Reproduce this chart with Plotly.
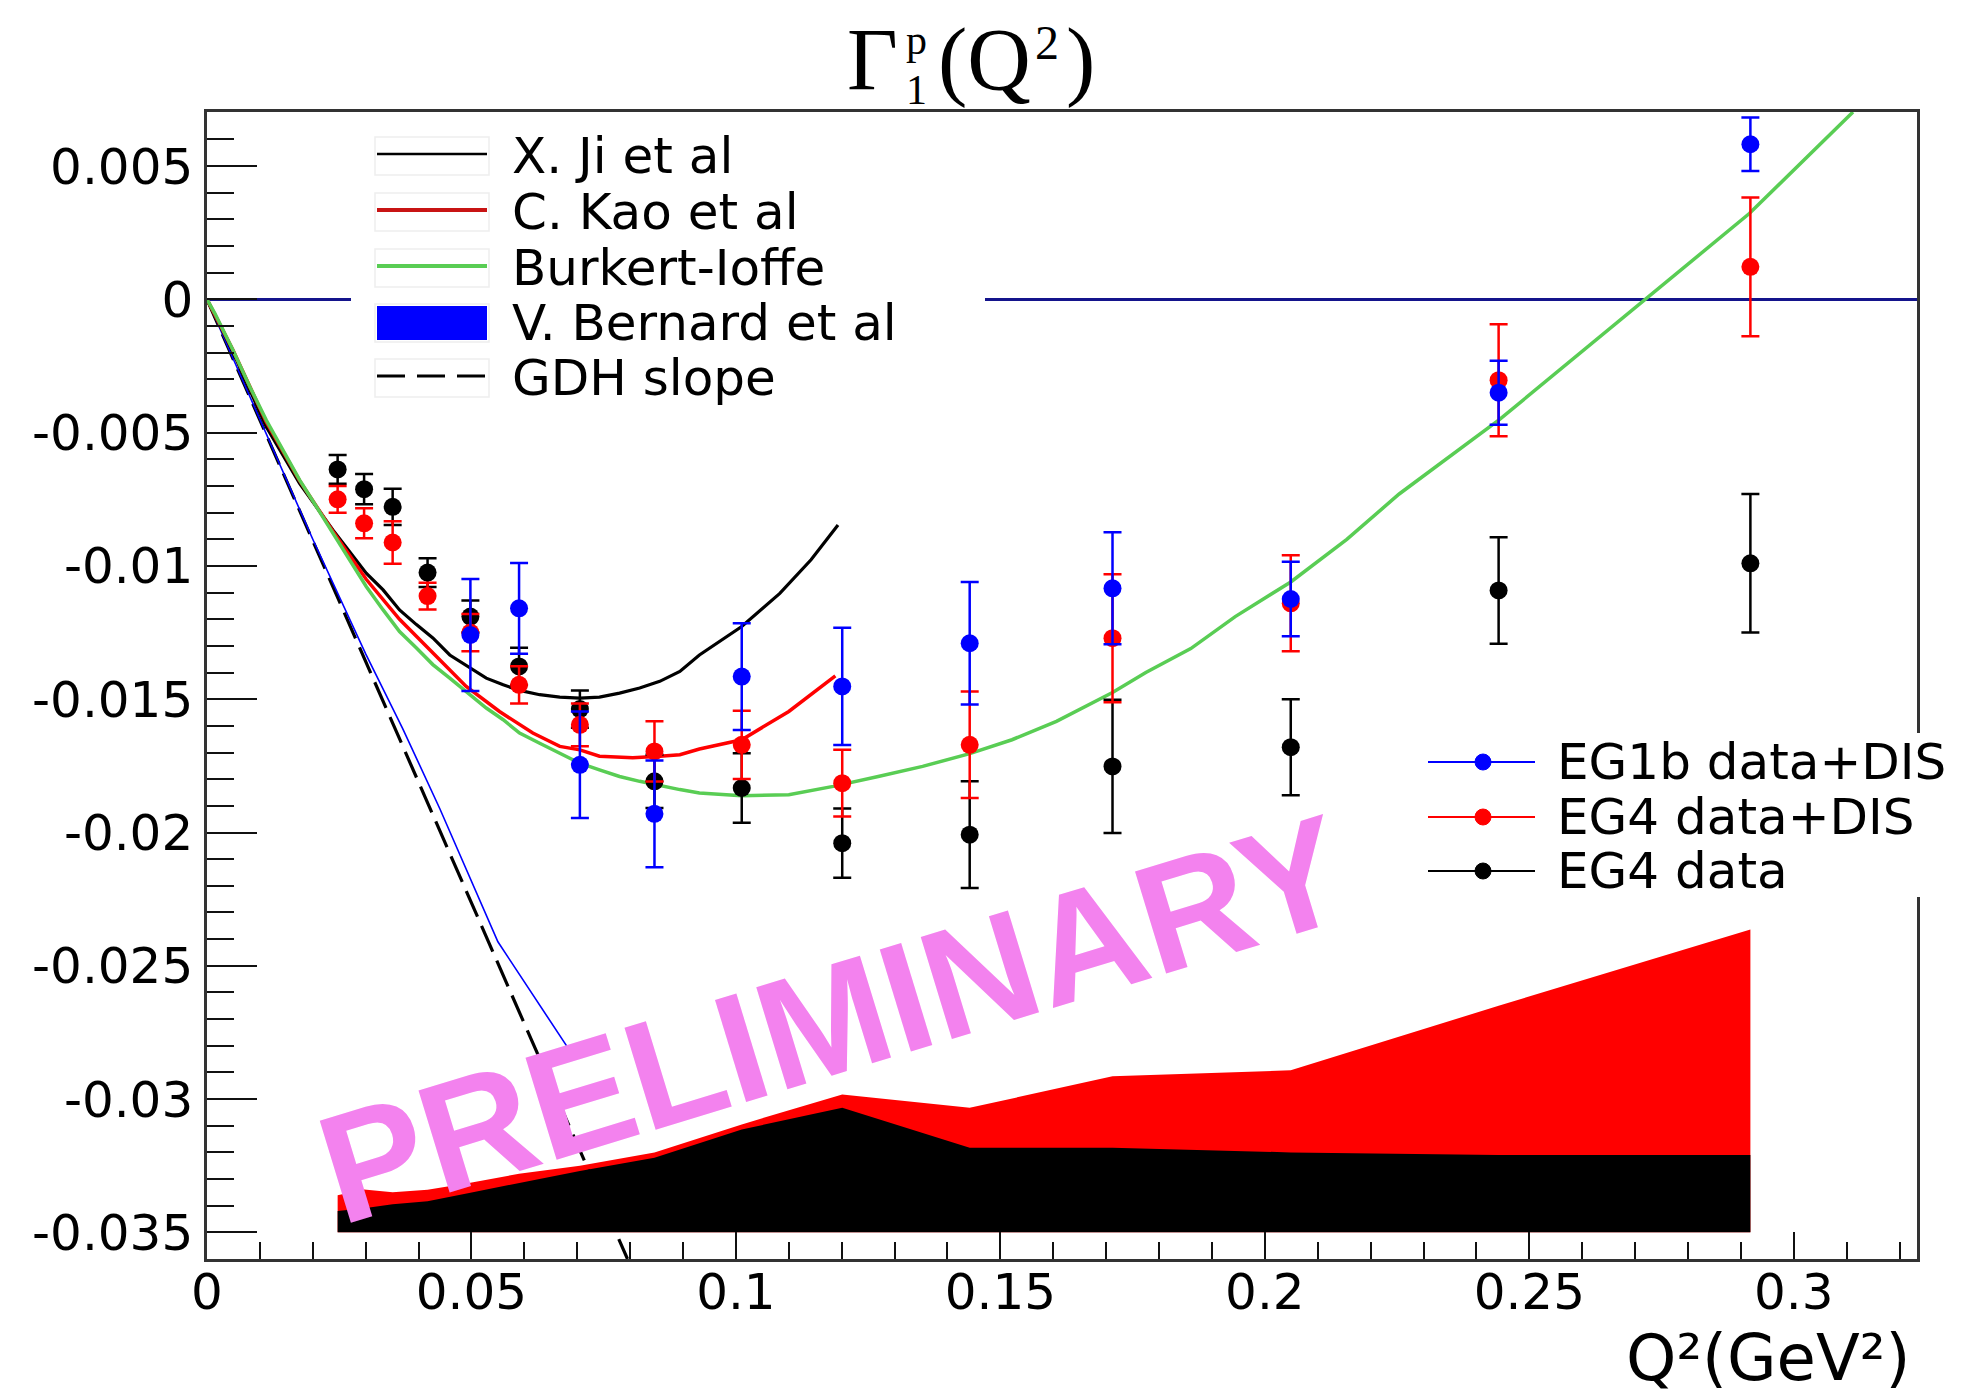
import plotly.graph_objects as go

# ---------------- data ----------------
q2 = [0.0247, 0.0297, 0.0351, 0.0417, 0.0498, 0.0590, 0.0705, 0.0846,
      0.1011, 0.1201, 0.1442, 0.1712, 0.2049, 0.2442, 0.2918]

eg4_y = [-0.00638, -0.00712, -0.00778, -0.01025, -0.0119, -0.01377, -0.01537, -0.01808,
         -0.01833, -0.0204, -0.02008, -0.01752, -0.0168, -0.01092, -0.0099]
eg4_err = [0.00054, 0.00057, 0.00068, 0.00054, 0.0006, 0.0007, 0.0007, 0.001,
           0.0013, 0.0013, 0.002, 0.0025, 0.0018, 0.002, 0.0026]

eg4dis_y = [-0.0075, -0.0084, -0.00912, -0.01113, -0.0125, -0.01446, -0.01596, -0.01696,
            -0.01671, -0.01815, -0.01671, -0.01271, -0.0114, -0.00303, 0.00122]
eg4dis_err = [0.0005, 0.00056, 0.0008, 0.0005, 0.0007, 0.0007, 0.0008, 0.00113,
              0.00128, 0.00125, 0.002, 0.0024, 0.0018, 0.0021, 0.0026]

eg1b_q2 = [0.0498, 0.0590, 0.0705, 0.0846, 0.1011, 0.1201, 0.1442, 0.1712, 0.2049, 0.2442, 0.2918]
eg1b_y = [-0.01259, -0.01159, -0.01746, -0.0193, -0.01415, -0.01452, -0.0129, -0.01084,
          -0.01124, -0.0035, 0.00582]
eg1b_err = [0.0021, 0.0017, 0.002, 0.002, 0.002, 0.0022, 0.0023, 0.0021, 0.0014, 0.0012, 0.001]

syst_base = -0.035
syst_eg4_top = [-0.0342, -0.0341, -0.03395, -0.03383, -0.03351, -0.03314, -0.0327, -0.0322,
                -0.03114, -0.03033, -0.03183, -0.03183, -0.032, -0.0321, -0.0321]
syst_eg4dis_top = [-0.03361, -0.03339, -0.0335, -0.0334, -0.03314, -0.0328, -0.0325, -0.0320,
                   -0.03095, -0.02983, -0.03033, -0.02914, -0.02892, -0.0265, -0.02364]

ji_x = [0, 0.0049, 0.0112, 0.0175, 0.0238, 0.0301, 0.0333, 0.0364, 0.0396, 0.0427, 0.0459,
        0.0497, 0.0528, 0.0560, 0.0591, 0.0629, 0.0667, 0.0705, 0.0742, 0.0780, 0.0818,
        0.0856, 0.0894, 0.0931, 0.1011, 0.1083, 0.1142, 0.1193]
ji_y = [0, -0.00197, -0.00478, -0.0069, -0.00865, -0.01027, -0.0109, -0.01165, -0.0122, -0.0127,
        -0.01334, -0.01383, -0.01421, -0.01446, -0.01467, -0.01483, -0.01492, -0.01496, -0.01492,
        -0.01477, -0.01458, -0.01433, -0.01396, -0.01334, -0.01227, -0.01103, -0.00977, -0.00846]

kao_x = [0, 0.0049, 0.0112, 0.0175, 0.0238, 0.0301, 0.0364, 0.0427, 0.0490, 0.0553, 0.0616,
         0.0667, 0.0705, 0.0742, 0.0805, 0.0856, 0.0894, 0.0931, 0.1011, 0.1100, 0.1188]
kao_y = [0, -0.0019, -0.0046, -0.0068, -0.0087, -0.0105, -0.0120, -0.01327, -0.01452, -0.01546,
         -0.01627, -0.01677, -0.0169, -0.01714, -0.0172, -0.01714, -0.01708, -0.01687, -0.01652,
         -0.01546, -0.01412]

bi_x = [0, 0.0015, 0.0049, 0.0081, 0.0112, 0.0144, 0.0175, 0.0207, 0.0238, 0.0270, 0.0301,
        0.0333, 0.0364, 0.0396, 0.0427, 0.0459, 0.0497, 0.0528, 0.0560, 0.0591, 0.0629, 0.0667,
        0.0705, 0.0742, 0.0780, 0.0818, 0.0856, 0.0894, 0.0931, 0.1011, 0.1100, 0.1184, 0.1269,
        0.1353, 0.1442, 0.1522, 0.1606, 0.1712, 0.1775, 0.1860, 0.1944, 0.2049, 0.2155, 0.2254,
        0.2444, 0.2719, 0.2916, 0.3112]
bi_y = [0, -0.00053, -0.0019, -0.00328, -0.00453, -0.00565, -0.00677, -0.00778, -0.00877,
        -0.00977, -0.01077, -0.01165, -0.01246, -0.01308, -0.0137, -0.01421, -0.01483, -0.01533,
        -0.01577, -0.01627, -0.01665, -0.01702, -0.0174, -0.01765, -0.0179, -0.01808, -0.01825,
        -0.01839, -0.01852, -0.01862, -0.01858, -0.01827, -0.0179, -0.01752, -0.01704, -0.01652,
        -0.01583, -0.01475, -0.0140, -0.0131, -0.0119, -0.0106, -0.0090, -0.0073,
        -0.0045, 0.0, 0.00322, 0.00703]

bern_x = [0, 0.01, 0.02, 0.03, 0.037, 0.044, 0.050, 0.055, 0.0693]
bern_y = [0, -0.0045, -0.009, -0.0133, -0.0161, -0.0191, -0.0218, -0.0241, -0.0284]

gdh_x = [0, 0.0795]
gdh_y = [0, -0.036]

x_tickvals = [0, 0.05, 0.1, 0.15, 0.2, 0.25, 0.3]
x_ticktext = ["0", "0.05", "0.1", "0.15", "0.2", "0.25", "0.3"]
y_tickvals = [0.005, 0, -0.005, -0.01, -0.015, -0.02, -0.025, -0.03, -0.035]
y_ticktext = ["0.005", "0", "-0.005", "-0.01", "-0.015", "-0.02", "-0.025", "-0.03", "-0.035"]

theory_labels = ["X. Ji et al", "C. Kao et al", "Burkert-Ioffe", "V. Bernard et al", "GDH slope"]
data_labels = ["EG1b data+DIS", "EG4 data+DIS", "EG4 data"]

# ---------------- style / layout constants ----------------
OFF = 8                      # page body margin
W, H = 1980, 1389            # figure size
PL, PT, PR, PB = 207, 112, 1917, 1259   # plot-area edges in page pixels
L, T = PL - OFF, PT - OFF
R, B = OFF + W - PR, OFF + H - PB
PW, PH = PR - PL, PB - PT
FONT = "DejaVu Sans"
SERIF = "Liberation Serif"
RED, BLUE, BLACK, GREEN = "#ff0000", "#0000ff", "#000000", "rgb(89,205,84)"


def px(p):
    return (p - PL) / PW


def py(p):
    return (PB - p) / PH


fig = go.Figure()

# systematic bands
fig.add_trace(go.Scatter(x=q2 + q2[::-1], y=syst_eg4dis_top + [syst_base] * len(q2),
                         fill="toself", fillcolor=RED, mode="lines", line=dict(width=0),
                         hoverinfo="skip"))
fig.add_trace(go.Scatter(x=q2 + q2[::-1], y=syst_eg4_top + [syst_base] * len(q2),
                         fill="toself", fillcolor=BLACK, mode="lines", line=dict(width=0),
                         hoverinfo="skip"))

# theory curves
fig.add_trace(go.Scatter(x=gdh_x, y=gdh_y, mode="lines",
                         line=dict(color=BLACK, width=3.2, dash="28px,10px")))
fig.add_trace(go.Scatter(x=bern_x, y=bern_y, mode="lines", line=dict(color=BLUE, width=1.6)))
fig.add_trace(go.Scatter(x=ji_x, y=ji_y, mode="lines", line=dict(color=BLACK, width=3.2)))
fig.add_trace(go.Scatter(x=kao_x, y=kao_y, mode="lines", line=dict(color=RED, width=3.5)))
fig.add_trace(go.Scatter(x=bi_x, y=bi_y, mode="lines", line=dict(color=GREEN, width=3.5)))


def data_trace(x, y, e, c):
    return go.Scatter(x=x, y=y, mode="markers",
                      marker=dict(color=c, size=18, symbol="circle"),
                      error_y=dict(type="data", array=e, visible=True, color=c,
                                   thickness=2.5, width=9))


fig.add_trace(data_trace(q2, eg4_y, eg4_err, BLACK))
fig.add_trace(data_trace(q2, eg4dis_y, eg4dis_err, RED))
fig.add_trace(data_trace(eg1b_q2, eg1b_y, eg1b_err, BLUE))

shapes = []
annotations = []

# ---- legend 1 (theory) ----
rows1 = [156, 212, 268, 323, 378]
shapes.append(dict(type="rect", xref="paper", yref="paper", x0=px(351), x1=px(985),
                   y0=py(405), y1=py(125), fillcolor="white", line=dict(width=0), layer="above"))
for r in rows1:
    shapes.append(dict(type="rect", xref="paper", yref="paper", x0=px(375), x1=px(489),
                       y0=py(r + 19), y1=py(r - 19), fillcolor="rgba(0,0,0,0)",
                       line=dict(color="rgb(238,238,238)", width=1.5), layer="above"))
sample_styles = [dict(color=BLACK, width=2.5), dict(color="rgb(200,20,20)", width=4),
                 dict(color=GREEN, width=4), None, dict(color=BLACK, width=3.2, dash="28px,12px")]
for r, st in zip(rows1, sample_styles):
    if st is None:
        shapes.append(dict(type="rect", xref="paper", yref="paper", x0=px(377), x1=px(487),
                           y0=py(r + 17), y1=py(r - 17), fillcolor=BLUE,
                           line=dict(width=0), layer="above"))
    else:
        shapes.append(dict(type="line", xref="paper", yref="paper", x0=px(377), x1=px(487),
                           y0=py(r - 2), y1=py(r - 2), line=st, layer="above"))
for r, lab in zip(rows1, theory_labels):
    annotations.append(dict(text=lab, xref="paper", yref="paper", x=px(510), y=py(r),
                            xanchor="left", yanchor="middle", showarrow=False,
                            font=dict(family=FONT, size=50, color="black")))

# ---- legend 2 (data) ----
rows2 = [762, 817, 871]
shapes.append(dict(type="rect", xref="paper", yref="paper", x0=px(1420), x1=px(1995),
                   y0=py(897), y1=py(733), fillcolor="white", line=dict(width=0), layer="above"))
for r, c in zip(rows2, [BLUE, RED, BLACK]):
    shapes.append(dict(type="line", xref="paper", yref="paper", x0=px(1428), x1=px(1535),
                       y0=py(r), y1=py(r), line=dict(color=c, width=2), layer="above"))
    shapes.append(dict(type="circle", xref="paper", yref="paper", xsizemode="pixel",
                       ysizemode="pixel", xanchor=px(1483), yanchor=py(r),
                       x0=-8, x1=8, y0=-8, y1=8, fillcolor=c, line=dict(color=c, width=1),
                       layer="above"))
for r, lab in zip(rows2, data_labels):
    annotations.append(dict(text=lab, xref="paper", yref="paper", x=px(1555), y=py(r),
                            xanchor="left", yanchor="middle", showarrow=False,
                            font=dict(family=FONT, size=50, color="black")))

# ---- title Γ1p(Q2) ----
annotations += [
    dict(text="Γ", xref="paper", yref="paper", x=px(900), y=py(59), xanchor="right",
         yanchor="middle", showarrow=False, font=dict(family=SERIF, size=88, color="black")),
    dict(text="p", xref="paper", yref="paper", x=px(904), y=py(40), xanchor="left",
         yanchor="middle", showarrow=False, font=dict(family=SERIF, size=42, color="black")),
    dict(text="1", xref="paper", yref="paper", x=px(904), y=py(90), xanchor="left",
         yanchor="middle", showarrow=False, font=dict(family=SERIF, size=42, color="black")),
    dict(text="(Q", xref="paper", yref="paper", x=px(936), y=py(59), xanchor="left",
         yanchor="middle", showarrow=False, font=dict(family=SERIF, size=88, color="black")),
    dict(text="2", xref="paper", yref="paper", x=px(1033), y=py(42), xanchor="left",
         yanchor="middle", showarrow=False, font=dict(family=SERIF, size=48, color="black")),
    dict(text=")", xref="paper", yref="paper", x=px(1064), y=py(59), xanchor="left",
         yanchor="middle", showarrow=False, font=dict(family=SERIF, size=88, color="black")),
]

# ---- x axis title ----
annotations.append(dict(text="Q²(GeV²)", xref="paper", yref="paper",
                        x=px(1912), y=py(1358), xanchor="right", yanchor="middle",
                        showarrow=False, font=dict(family=FONT, size=64, color="black")))

# ---- watermark ----
annotations.append(dict(text="PRELIMINARY", xref="x", yref="y", x=0.1183, y=-0.0270,
                        xanchor="center", yanchor="middle", textangle=-17, showarrow=False,
                        font=dict(family="Liberation Sans", size=155, color="rgb(243,130,238)",
                                  weight="bold")))

fig.update_layout(
    width=W, height=H,
    margin=dict(l=L, r=R, t=T, b=B, autoexpand=False),
    paper_bgcolor="white", plot_bgcolor="white",
    showlegend=False,
    font=dict(family=FONT, size=50, color="black"),
    shapes=shapes, annotations=annotations,
)

fig.update_xaxes(range=[0, 0.3233], showline=True, mirror=True, linecolor="#333",
                 linewidth=2.5, showgrid=False, zeroline=False,
                 ticks="inside", ticklen=27, tickwidth=2, tickcolor="#111",
                 tickvals=x_tickvals, ticktext=x_ticktext, ticklabelstandoff=-13,
                 tickfont=dict(family=FONT, size=50, color="black"),
                 minor=dict(ticks="inside", ticklen=17, tickwidth=2, tickcolor="#111",
                            dtick=0.01, tick0=0))
fig.update_yaxes(range=[-0.036, 0.00703], showline=True, mirror=True, linecolor="#333",
                 linewidth=2.5, showgrid=False, zeroline=True,
                 zerolinecolor="rgb(20,20,140)", zerolinewidth=2.5,
                 ticks="inside", ticklen=50, tickwidth=2, tickcolor="#111",
                 tickvals=y_tickvals, ticktext=y_ticktext, ticklabelstandoff=1,
                 tickfont=dict(family=FONT, size=50, color="black"),
                 minor=dict(ticks="inside", ticklen=27, tickwidth=2, tickcolor="#111",
                            dtick=0.001, tick0=0))

fig.write_html("out.html")
